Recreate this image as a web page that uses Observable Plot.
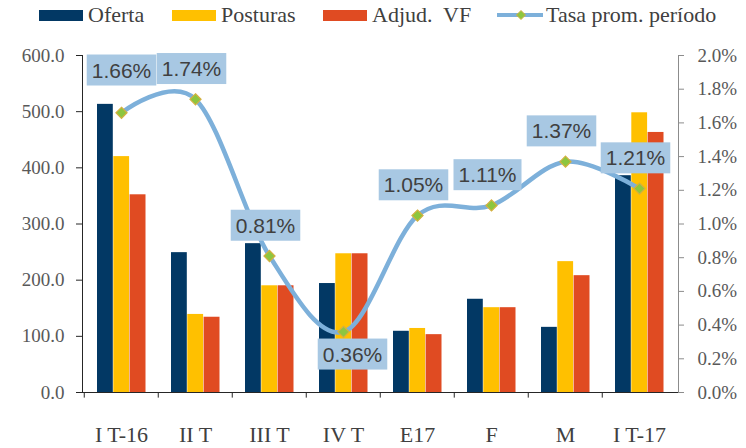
<!DOCTYPE html>
<html><head><meta charset="utf-8">
<script src="https://cdn.jsdelivr.net/npm/d3@7"></script>
<script src="https://cdn.jsdelivr.net/npm/@observablehq/plot@0.6"></script>
<style>
body{margin:0;background:#fff;}
#wrap{position:relative;width:746px;height:448px;overflow:hidden;}
#legend{position:relative;height:30px;font-family:"Liberation Serif",serif;font-size:22px;color:#404040;}
.item{position:absolute;top:0;height:30px;display:flex;align-items:center;white-space:pre;}
.sw{width:44px;height:11px;margin-right:5px;}
</style></head><body>
<div id="wrap"><div id="legend"></div><div id="chart"></div></div>
<script>
// ---- data ----
const categories = ["I T-16", "II T", "III T", "IV T", "E17", "F", "M", "I T-17"];
const oferta   = [513, 249, 265, 194, 109, 166, 116, 386];
const posturas = [420, 139, 190, 247, 114, 151, 233, 498];
const adjudVF  = [352, 134, 190, 247, 103, 151, 208, 463];
const tasa     = [1.66, 1.74, 0.81, 0.36, 1.05, 1.11, 1.37, 1.21];
const seriesNames = ["Oferta", "Posturas", "Adjud.  VF", "Tasa prom. período"];
const leftTicks  = [0, 100, 200, 300, 400, 500, 600];
const rightTicks = [0, 0.2, 0.4, 0.6, 0.8, 1.0, 1.2, 1.4, 1.6, 1.8, 2.0];

const colors = ["#023864", "#FFC000", "#E04B22"];
const lineColor = "#7DB0DA";
const boxColor = "#A8C8E3";
const k = 300; // 2.0% on right axis ↔ 600 on left axis
const serif = "Liberation Serif, serif";

// legend
const legend = document.getElementById("legend");
const legLeft = [39, 172, 323, 497];
seriesNames.forEach((name, i) => {
  const it = document.createElement("div");
  it.className = "item";
  it.style.left = legLeft[i] + "px";
  if (i < 3) {
    it.innerHTML = `<div class="sw" style="background:${colors[i]}"></div><span>${name}</span>`;
  } else {
    it.innerHTML = `<svg width="48" height="14" style="margin-right:1px"><line x1="0" x2="46" y1="7" y2="7" stroke="${lineColor}" stroke-width="4"/><path d="M24,2.5 L28.5,7 L24,11.5 L19.5,7 Z" fill="#8DC63F" stroke="#D4B040" stroke-width="1"/></svg><span>${name}</span>`;
  }
  legend.appendChild(it);
});

const rows = categories.map((c, i) => ({c, o: oferta[i], p: posturas[i], a: adjudVF[i], r: tasa[i]}));
const bw = (746 - 82 - 68) / categories.length;

const labelOpts = {
  x: "c", y: d => d.r * k, text: d => d.r.toFixed(2) + "%",
  fontFamily: "Liberation Sans, sans-serif", fontSize: 21, fill: "#404040"
};

const chart = Plot.plot({
  width: 746, height: 418,
  marginLeft: 82, marginRight: 68, marginTop: 25, marginBottom: 56,
  style: {fontFamily: serif, background: "#fff"},
  x: {domain: categories, padding: 0},
  y: {domain: [0, 600]},
  marks: [
    Plot.barY(rows, {x: "c", y: "o", fill: colors[0], insetLeft: 13, insetRight: bw - 29.3}),
    Plot.barY(rows, {x: "c", y: "p", fill: colors[1], insetLeft: 29.3, insetRight: bw - 45.6}),
    Plot.barY(rows, {x: "c", y: "a", fill: colors[2], insetLeft: 45.6, insetRight: bw - 62}),
    Plot.ruleY([0], {stroke: "#262626"}),
    Plot.frame({anchor: "left", stroke: "#262626"}),
    Plot.frame({anchor: "right", stroke: "#8c8c8c"}),
    Plot.ruleX(categories, {x: d => d, dx: -bw / 2, y1: 0, y2: -10, stroke: "#262626"}),
    Plot.axisY({anchor: "left", ticks: leftTicks, tickFormat: d => d.toFixed(1), tickSize: 6, tickPadding: 12,
      fontSize: 19, fontFamily: serif, fill: "#595959", stroke: "#262626", label: null}),
    Plot.axisY({anchor: "right", ticks: rightTicks.map(v => v * k), tickFormat: d => (d / k).toFixed(1) + "%",
      tickSize: 5, tickPadding: 14, fontSize: 19, fontFamily: serif, fill: "#595959", stroke: "#8c8c8c", label: null}),
    Plot.axisX({tickSize: 0, tickPadding: 34, fontSize: 22, fontFamily: serif, fill: "#404040", label: null}),
    Plot.line(rows, {x: "c", y: d => d.r * k, stroke: lineColor, strokeWidth: 4.5, curve: "cardinal"}),
    Plot.dot(rows, {x: "c", y: d => d.r * k, symbol: "diamond2", r: 5, fill: "#8DC63F", stroke: "#D4B040", strokeWidth: 1.2}),
    Plot.text(rows, {...labelOpts, filter: d => d.c !== "IV T" && d.c !== "I T-16", dy: -30, dx: -4}),
    Plot.text(rows, {...labelOpts, filter: d => d.c === "I T-16", dy: -42, dx: 0}),
    Plot.text(rows, {...labelOpts, filter: d => d.c === "IV T", dy: 23, dx: 9})
  ]
});
document.getElementById("chart").appendChild(chart);

// label boxes behind the percentage texts (texts like "1.66%")
chart.querySelectorAll("text").forEach(t => {
  if (!/^\d\.\d\d%$/.test(t.textContent.trim())) return;
  const b = t.getBBox();
  const r = document.createElementNS("http://www.w3.org/2000/svg", "rect");
  r.setAttribute("x", b.x - 5);
  r.setAttribute("y", b.y - 4);
  r.setAttribute("width", b.width + 10);
  r.setAttribute("height", b.height + 8);
  r.setAttribute("fill", boxColor);
  const tr = t.getAttribute("transform");
  if (tr) r.setAttribute("transform", tr);
  t.parentNode.insertBefore(r, t);
});
</script>
</body></html>
